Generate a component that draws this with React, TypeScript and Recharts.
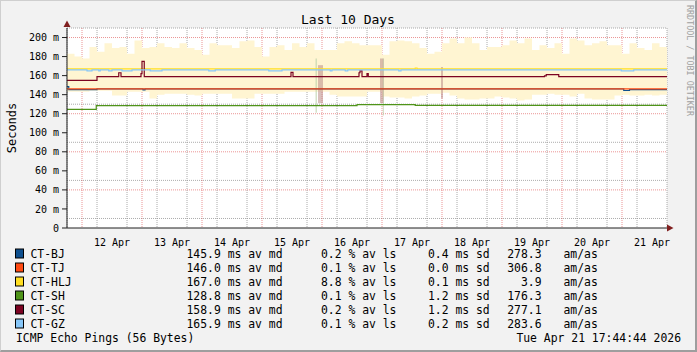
import { Area, CartesianGrid, ComposedChart, Line, XAxis, YAxis } from "recharts";

// time axis: hours since Apr 11 18:00, 10 days wide
const dayLabels = ["12 Apr", "13 Apr", "14 Apr", "15 Apr", "16 Apr", "17 Apr", "18 Apr", "19 Apr", "20 Apr", "21 Apr"];
const labelHours = [18, 42, 66, 90, 114, 138, 162, 186, 210, 234];
const midnightHours = [6, 30, 54, 78, 102, 126, 150, 174, 198, 222];
const quarterHours = [0, 12, 18, 24, 36, 42, 48, 60, 66, 72, 84, 90, 96, 108, 114, 120, 132, 138, 144, 156, 162, 168, 180, 186, 192, 204, 210, 216, 228, 234, 240];
const yMajor = [0, 20, 40, 60, 80, 100, 120, 140, 160, 180, 200];
const yMinor = [10, 30, 50, 70, 90, 110, 130, 150, 170, 190, 210];

// smoke band (ms), one sample every 3 hours
const smokeHigh = [
  183, 180, 178, 190, 185, 194, 189, 190, 183, 197, 189, 190, 194, 190, 189, 194, 189, 187, 182, 194,
  192, 192, 189, 196, 197, 190, 180, 190, 192, 187, 194, 190, 194, 187, 187, 187, 194, 196, 194, 192,
  192, 192, 182, 196, 197, 196, 194, 189, 183, 185, 194, 199, 194, 200, 194, 187, 190, 190, 192, 197,
  194, 199, 187, 192, 189, 194, 183, 199, 197, 192, 194, 196, 192, 192, 183, 194, 189, 187, 194, 190, 190,
];
const smokeLow = [
  143, 143, 143, 144, 144, 144, 139, 139, 143, 143, 143, 136, 140, 141, 141, 141, 140, 139, 141, 141,
  141, 141, 136, 136, 136, 141, 141, 141, 141, 143, 143, 143, 143, 143, 143, 140, 138, 138, 138, 138,
  143, 143, 138, 137, 137, 136, 138, 139, 141, 141, 142, 139, 136, 135, 135, 136, 136, 138, 137, 136,
  134, 135, 140, 140, 141, 140, 140, 138, 141, 136, 135, 135, 135, 139, 140, 139, 139, 140, 139, 140, 140,
];

// loss spikes: [startHour, endHour, low, high]
const lossGreen = [
  [99.4, 100, 121, 178],
  [126.3, 126.8, 118, 178],
];
const lossRed = [
  [100.4, 102.4, 131, 171],
  [125.2, 126.6, 131, 178],
  [149.6, 150.4, 136, 169],
];

// median steps: [hour, ms]
const bjSteps = [[0, 148.5], [0.7, 145.2], [12, 146], [30.4, 145], [31.2, 146], [222.7, 144.4], [225, 145.3], [240, 145.3]];
const tjSteps = [[0, 146], [240, 146]];
const hljSteps = [[0, 167], [139.3, 168], [140, 167], [240, 167]];
const shSteps = [[0, 124.5], [11.7, 128.5], [116, 129.6], [139.3, 128.8], [240, 128.8]];
const scSteps = [
  [0, 155], [12, 159], [20.7, 163], [21.6, 159], [29.6, 162], [30, 175], [30.9, 159], [89.6, 163.5], [90.4, 159],
  [116.8, 163], [117.2, 165], [118, 159], [120, 162], [120.5, 159], [191, 159.8], [191.7, 161], [196.7, 159], [240, 159],
];
const gzSteps = [
  [0, 166], [8, 165], [10, 166], [12.7, 165], [13.3, 166], [16.7, 165], [18, 166], [22, 165], [26, 166], [33.3, 165],
  [38, 166], [56.7, 165], [59.3, 166], [80.7, 165], [86, 166], [105.3, 165], [106, 166], [111.3, 165], [112.3, 166],
  [132.7, 165], [133.6, 166], [221.7, 165], [226.7, 166], [240, 166],
];

const legendRows = [
  { name: "CT-BJ", color: "#0e4f8e", md: "145.9", ls: "0.2", sd: "0.4", am: "278.3" },
  { name: "CT-TJ", color: "#ff4a12", md: "146.0", ls: "0.1", sd: "0.0", am: "306.8" },
  { name: "CT-HLJ", color: "#ffde21", md: "167.0", ls: "8.8", sd: "0.1", am: "3.9" },
  { name: "CT-SH", color: "#4f9419", md: "128.8", ls: "0.1", sd: "1.2", am: "176.3" },
  { name: "CT-SC", color: "#7c0322", md: "158.9", ls: "0.2", sd: "1.2", am: "277.1" },
  { name: "CT-GZ", color: "#86c6f8", md: "165.9", ls: "0.1", sd: "0.2", am: "283.6" },
];

const series = [
  { steps: bjSteps, color: "#0e4f8e" },
  { steps: tjSteps, color: "#ff4a12" },
  { steps: hljSteps, color: "#ffde21" },
  { steps: shSteps, color: "#4f9419" },
  { steps: scSteps, color: "#7c0322" },
  { steps: gzSteps, color: "#86c6f8" },
];

const MONO = '"DejaVu Sans Mono", monospace';

const smokeData = smokeHigh.map((hi, i) => ({ t: i * 3, band: [smokeLow[i], hi] }));
const toPoints = (steps: number[][]) => steps.map(([t, v]) => ({ t, v }));
const toBlock = ([a, b, lo, hi]: number[]) => [
  { t: a, band: [lo, hi] },
  { t: b, band: [lo, hi] },
];

export default function App() {
  return (
    <div style={{ position: "relative", width: 697, height: 352, background: "#f2f2f2", fontFamily: MONO }}>
      <style>{"body{margin:0}"}</style>
      <div style={{ position: "absolute", left: 0, top: 0 }}>
        <ComposedChart width={697} height={250} margin={{ top: 28, right: 30, bottom: 0, left: 0 }}>
          <CartesianGrid
            fill="#ffffff"
            stroke="rgba(143,143,143,0.75)"
            strokeDasharray="1 1"
            horizontalValues={yMinor}
            verticalValues={quarterHours}
          />
          <CartesianGrid
            stroke="rgba(222,79,79,0.6)"
            strokeDasharray="1 1"
            horizontalValues={yMajor.slice(1)}
            verticalValues={midnightHours}
          />
          <XAxis
            dataKey="t"
            type="number"
            domain={[0, 240]}
            allowDataOverflow
            ticks={labelHours}
            tickFormatter={(v: number) => dayLabels[labelHours.indexOf(v)]}
            tickLine={false}
            tickMargin={5}
            height={22}
            axisLine={{ stroke: "#1f1f1f" }}
            tick={{ fill: "#000", fontSize: 10, fontFamily: MONO }}
          />
          <YAxis
            type="number"
            domain={[0, 210]}
            allowDataOverflow
            ticks={yMajor}
            tickFormatter={(v: number) => (v === 0 ? "0" : `${v} m`)}
            width={67}
            tickSize={5}
            tickMargin={3}
            tickLine={{ stroke: "#1f1f1f" }}
            axisLine={{ stroke: "#1f1f1f" }}
            tick={{ fill: "#000", fontSize: 10, fontFamily: MONO }}
          />
          <Area
            data={smokeData}
            dataKey="band"
            type="stepAfter"
            fill="#fff5d2"
            fillOpacity={1}
            stroke="none"
            isAnimationActive={false}
          />
          {lossGreen.map((b, i) => (
            <Area
              key={`lg${i}`}
              data={toBlock(b)}
              dataKey="band"
              type="linear"
              fill="#b9cfa6"
              fillOpacity={0.6}
              stroke="none"
              isAnimationActive={false}
            />
          ))}
          {lossRed.map((b, i) => (
            <Area
              key={`lr${i}`}
              data={toBlock(b)}
              dataKey="band"
              type="linear"
              fill="#b98a86"
              fillOpacity={0.55}
              stroke="none"
              isAnimationActive={false}
            />
          ))}
          {series.map((s, i) => (
            <Line
              key={i}
              data={toPoints(s.steps)}
              dataKey="v"
              type="stepAfter"
              stroke={s.color}
              strokeWidth={1.2}
              dot={false}
              activeDot={false}
              isAnimationActive={false}
            />
          ))}
        </ComposedChart>
      </div>
      <svg width={697} height={352} style={{ position: "absolute", left: 0, top: 0 }} fontFamily={MONO}>
        <polygon points="63.5,27 70.5,27 67,20.5" fill="#801f1f" />
        <polygon points="667,224.5 667,231.5 673.5,228" fill="#801f1f" />
        <text x={348} y={23.5} textAnchor="middle" fontSize={13} fill="#000">
          Last 10 Days
        </text>
        <text transform="translate(15.5,128) rotate(-90)" textAnchor="middle" fontSize={12} fill="#000">
          Seconds
        </text>
        <text transform="translate(687,5) rotate(90)" fontSize={8.4} fill="#a0a0a0">
          RRDTOOL / TOBI OETIKER
        </text>
        {legendRows.map((r, i) => {
          const y = 257.5 + i * 14;
          return (
            <g key={r.name} fontSize={11.4} fill="#000">
              <rect x={15.5} y={y - 8.5} width={8} height={9} fill={r.color} stroke="#000" strokeWidth={1} />
              <text x={30.5} y={y}>{r.name}</text>
              <text x={186.5} y={y} style={{ whiteSpace: "pre" }}>{`${r.md} ms av md`}</text>
              <text x={321} y={y} style={{ whiteSpace: "pre" }}>{`${r.ls} % av ls`}</text>
              <text x={428} y={y} style={{ whiteSpace: "pre" }}>{`${r.sd} ms sd`}</text>
              <text x={541.5} y={y} textAnchor="end">{r.am}</text>
              <text x={563.5} y={y}>am/as</text>
            </g>
          );
        })}
        <text x={16} y={341.5} fontSize={11.4} fill="#000">
          ICMP Echo Pings (56 Bytes)
        </text>
        <text x={681} y={341.5} fontSize={11.4} fill="#000" textAnchor="end">
          Tue Apr 21 17:44:44 2026
        </text>
      </svg>
      <div
        style={{
          position: "absolute",
          inset: 0,
          boxSizing: "border-box",
          borderTop: "1px solid #cfcfcf",
          borderLeft: "1px solid #cfcfcf",
          borderRight: "2px solid #9e9e9e",
          borderBottom: "2px solid #9e9e9e",
          pointerEvents: "none",
        }}
      />
    </div>
  );
}
